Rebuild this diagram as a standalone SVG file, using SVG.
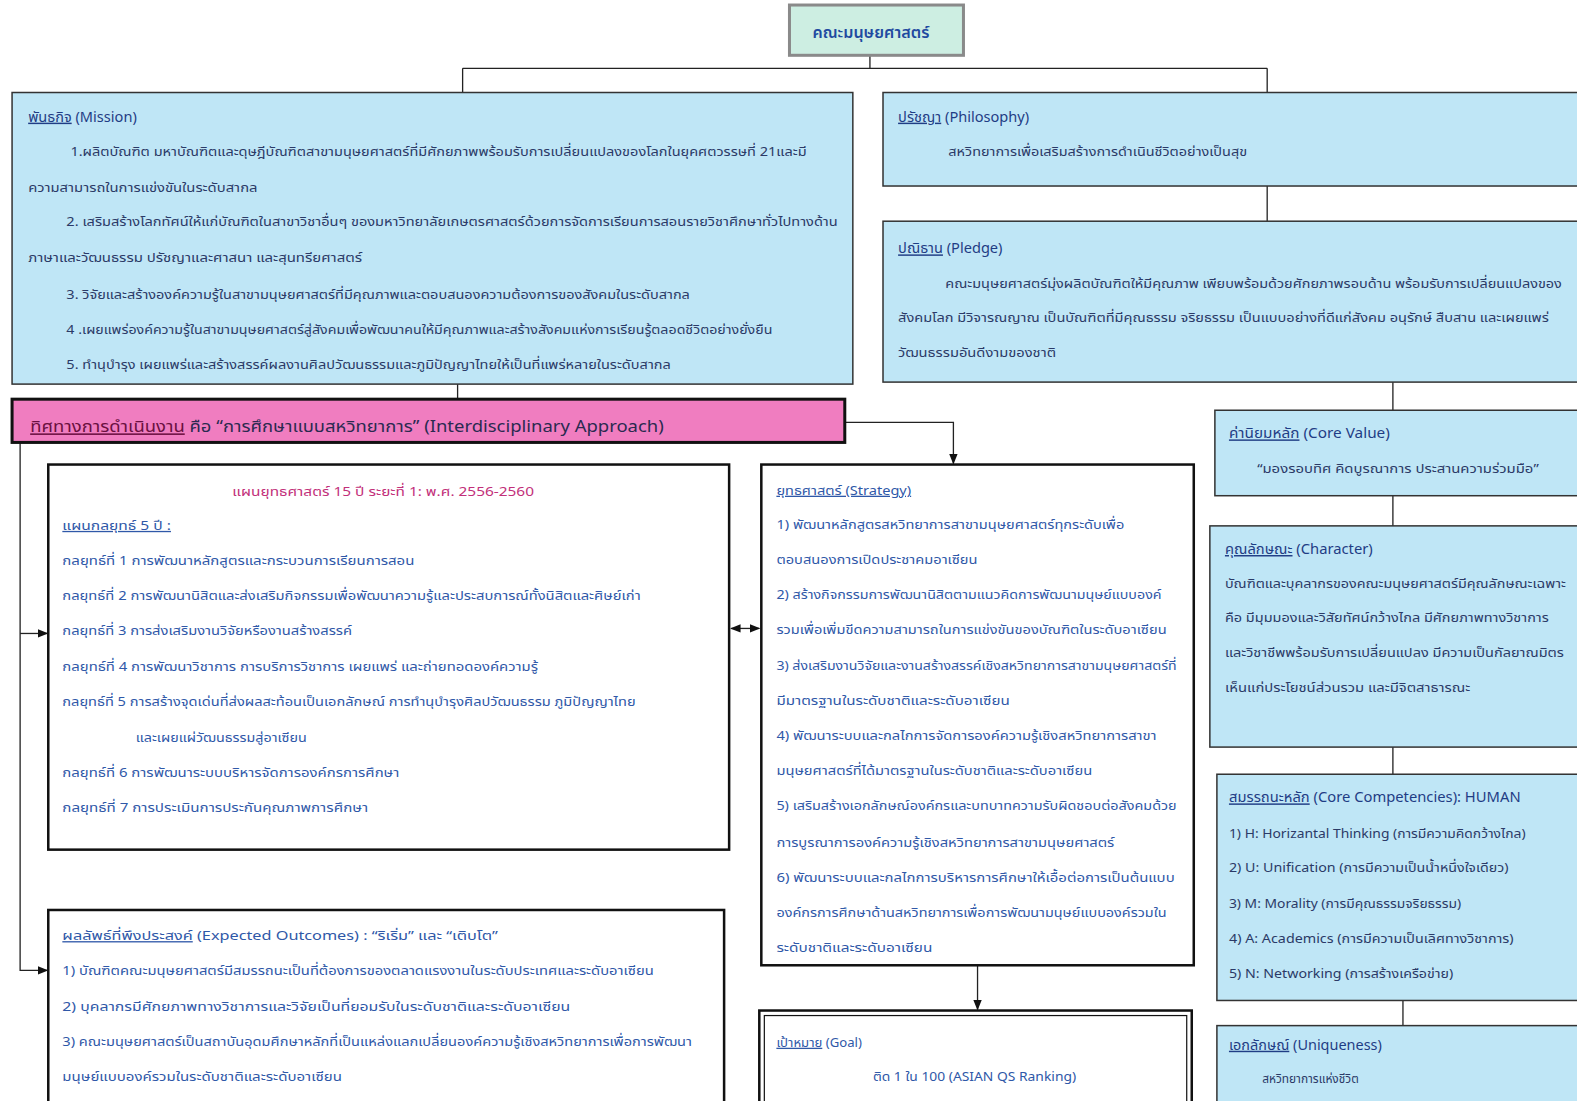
<svg xmlns="http://www.w3.org/2000/svg" width="1577" height="1101" viewBox="0 0 1577 1101">
<style>
text{font-family:"Noto Sans Thai","Noto Sans","Liberation Sans",sans-serif;font-size:13px;fill:#2b3a67}
.h{font-size:14.5px;fill:#1f3d85}
.u{text-decoration:underline}
.b{fill:#2f58a8}
.pk{fill:#c2307a}
.blue{fill:#bfe6f6;stroke:#333;stroke-width:1.5}
.white{fill:#fff;stroke:#111;stroke-width:2.5}
.ln{fill:none;stroke:#222;stroke-width:1.3}
</style>
<defs>
<marker id="ar" viewBox="0 0 10 10" refX="9" refY="5" markerWidth="8" markerHeight="8" orient="auto-start-reverse"><path d="M0 1L10 5L0 9z" fill="#111"/></marker>
</defs>
<rect width="1577" height="1101" fill="#fff"/>
<g transform="scale(1.0057 1.0055)">

<g id="connectors">
<path class="ln" d="M865 55V68M460 68H1260M460 68V92M1260 68V92"/>
<path class="ln" d="M1260 185V220"/>
<path class="ln" d="M1385 380V408"/>
<path class="ln" d="M1385 493V523"/>
<path class="ln" d="M1385 743V770"/>
<path class="ln" d="M1395 995V1020"/>
<path class="ln" d="M455 382V397"/>
<path class="ln" d="M840 420H948V461" marker-end="url(#ar)"/>
<path class="ln" d="M20 440V965H47" marker-end="url(#ar)"/>
<path class="ln" d="M20 630H47" marker-end="url(#ar)"/>
<path class="ln" d="M727 625H755" marker-start="url(#ar)" marker-end="url(#ar)"/>
<path class="ln" d="M972 960V1004" marker-end="url(#ar)"/>
</g>

<g id="faculty">
<rect x="785" y="5" width="173" height="50" fill="#cdeee2" stroke="#8a8a8a" stroke-width="3"/>
<text x="866" y="38" text-anchor="middle" style="font-size:16px;fill:#1f4aa0;font-weight:600">คณะมนุษยศาสตร์</text>
</g>

<g id="mission">
<rect class="blue" x="12" y="92" width="836" height="290"/>
<text class="h" x="28" y="121" textLength="108" lengthAdjust="spacingAndGlyphs"><tspan class="u">พันธกิจ</tspan> (Mission)</text>
<text x="70" y="155" textLength="732" lengthAdjust="spacingAndGlyphs">1.ผลิตบัณฑิต มหาบัณฑิตและดุษฎีบัณฑิตสาขามนุษยศาสตร์ที่มีศักยภาพพร้อมรับการเปลี่ยนแปลงของโลกในยุคศตวรรษที่ 21และมี</text>
<text x="28" y="191" textLength="228" lengthAdjust="spacingAndGlyphs">ความสามารถในการแข่งขันในระดับสากล</text>
<text x="66" y="225" textLength="767" lengthAdjust="spacingAndGlyphs">2. เสริมสร้างโลกทัศน์ให้แก่บัณฑิตในสาขาวิชาอื่นๆ ของมหาวิทยาลัยเกษตรศาสตร์ด้วยการจัดการเรียนการสอนรายวิชาศึกษาทั่วไปทางด้าน</text>
<text x="28" y="261" textLength="332" lengthAdjust="spacingAndGlyphs">ภาษาและวัฒนธรรม ปรัชญาและศาสนา และสุนทรียศาสตร์</text>
<text x="66" y="297" textLength="620" lengthAdjust="spacingAndGlyphs">3. วิจัยและสร้างองค์ความรู้ในสาขามนุษยศาสตร์ที่มีคุณภาพและตอบสนองความต้องการของสังคมในระดับสากล</text>
<text x="66" y="332" textLength="702" lengthAdjust="spacingAndGlyphs">4 .เผยแพร่องค์ความรู้ในสาขามนุษยศาสตร์สู่สังคมเพื่อพัฒนาคนให้มีคุณภาพและสร้างสังคมแห่งการเรียนรู้ตลอดชีวิตอย่างยั่งยืน</text>
<text x="66" y="367" textLength="601" lengthAdjust="spacingAndGlyphs">5. ทำนุบำรุง เผยแพร่และสร้างสรรค์ผลงานศิลปวัฒนธรรมและภูมิปัญญาไทยให้เป็นที่แพร่หลายในระดับสากล</text>
</g>

<g id="philosophy">
<rect class="blue" x="878" y="92" width="705" height="93"/>
<text class="h" x="893" y="121"><tspan class="u">ปรัชญา</tspan> (Philosophy)</text>
<text x="943" y="155" textLength="297" lengthAdjust="spacingAndGlyphs">สหวิทยาการเพื่อเสริมสร้างการดำเนินชีวิตอย่างเป็นสุข</text>
</g>

<g id="pledge">
<rect class="blue" x="878" y="220" width="705" height="160"/>
<text class="h" x="893" y="252"><tspan class="u">ปณิธาน</tspan> (Pledge)</text>
<text x="940" y="286" textLength="613" lengthAdjust="spacingAndGlyphs">คณะมนุษยศาสตร์มุ่งผลิตบัณฑิตให้มีคุณภาพ เพียบพร้อมด้วยศักยภาพรอบด้าน  พร้อมรับการเปลี่ยนแปลงของ</text>
<text x="893" y="320" textLength="647" lengthAdjust="spacingAndGlyphs">สังคมโลก มีวิจารณญาณ เป็นบัณฑิตที่มีคุณธรรม  จริยธรรม เป็นแบบอย่างที่ดีแก่สังคม อนุรักษ์  สืบสาน และเผยแพร่</text>
<text x="893" y="355" textLength="157" lengthAdjust="spacingAndGlyphs">วัฒนธรรมอันดีงามของชาติ</text>
</g>

<g id="direction">
<rect x="12" y="397" width="828" height="43" fill="#f07dc0" stroke="#111" stroke-width="3"/>
<text x="30" y="430" textLength="630" lengthAdjust="spacingAndGlyphs" style="font-size:15.5px;fill:#2a2a50"><tspan class="u" fill="#6a1040">ทิศทางการดำเนินงาน</tspan>  คือ “การศึกษาแบบสหวิทยาการ” (Interdisciplinary  Approach)</text>
</g>

<g id="plan">
<rect class="white" x="48" y="462" width="677" height="383"/>
<text class="pk" x="381" y="493" text-anchor="middle" textLength="300" lengthAdjust="spacingAndGlyphs">แผนยุทธศาสตร์ 15 ปี ระยะที่ 1: พ.ศ. 2556-2560</text>
<text class="b u" x="62" y="527" textLength="108" lengthAdjust="spacingAndGlyphs">แผนกลยุทธ์ 5 ปี :</text>
<text class="b" x="62" y="562" textLength="350" lengthAdjust="spacingAndGlyphs">กลยุทธ์ที่ 1  การพัฒนาหลักสูตรและกระบวนการเรียนการสอน</text>
<text class="b" x="62" y="597" textLength="575" lengthAdjust="spacingAndGlyphs">กลยุทธ์ที่ 2  การพัฒนานิสิตและส่งเสริมกิจกรรมเพื่อพัฒนาความรู้และประสบการณ์ทั้งนิสิตและศิษย์เก่า</text>
<text class="b" x="62" y="632" textLength="288" lengthAdjust="spacingAndGlyphs">กลยุทธ์ที่ 3  การส่งเสริมงานวิจัยหรืองานสร้างสรรค์</text>
<text class="b" x="62" y="667" textLength="473" lengthAdjust="spacingAndGlyphs">กลยุทธ์ที่ 4  การพัฒนาวิชาการ การบริการวิชาการ เผยแพร่ และถ่ายทอดองค์ความรู้</text>
<text class="b" x="62" y="702" textLength="570" lengthAdjust="spacingAndGlyphs">กลยุทธ์ที่ 5  การสร้างจุดเด่นที่ส่งผลสะท้อนเป็นเอกลักษณ์ การทำนุบำรุงศิลปวัฒนธรรม ภูมิปัญญาไทย</text>
<text class="b" x="135" y="738" textLength="170" lengthAdjust="spacingAndGlyphs">และเผยแผ่วัฒนธรรมสู่อาเซียน</text>
<text class="b" x="62" y="773" textLength="335" lengthAdjust="spacingAndGlyphs">กลยุทธ์ที่ 6  การพัฒนาระบบบริหารจัดการองค์กรการศึกษา</text>
<text class="b" x="62" y="808" textLength="304" lengthAdjust="spacingAndGlyphs">กลยุทธ์ที่ 7  การประเมินการประกันคุณภาพการศึกษา</text>
</g>

<g id="strategy">
<rect class="white" x="757" y="462" width="430" height="498"/>
<text class="b u" x="772" y="492" textLength="134" lengthAdjust="spacingAndGlyphs">ยุทธศาสตร์ (Strategy)</text>
<text class="b" x="772" y="526" textLength="346" lengthAdjust="spacingAndGlyphs">1) พัฒนาหลักสูตรสหวิทยาการสาขามนุษยศาสตร์ทุกระดับเพื่อ</text>
<text class="b" x="772" y="561" textLength="200" lengthAdjust="spacingAndGlyphs">ตอบสนองการเปิดประชาคมอาเซียน</text>
<text class="b" x="772" y="596" textLength="383" lengthAdjust="spacingAndGlyphs">2) สร้างกิจกรรมการพัฒนานิสิตตามแนวคิดการพัฒนามนุษย์แบบองค์</text>
<text class="b" x="772" y="631" textLength="388" lengthAdjust="spacingAndGlyphs">รวมเพื่อเพิ่มขีดความสามารถในการแข่งขันของบัณฑิตในระดับอาเซียน</text>
<text class="b" x="772" y="666" textLength="398" lengthAdjust="spacingAndGlyphs">3) ส่งเสริมงานวิจัยและงานสร้างสรรค์เชิงสหวิทยาการสาขามนุษยศาสตร์ที่</text>
<text class="b" x="772" y="701" textLength="232" lengthAdjust="spacingAndGlyphs">มีมาตรฐานในระดับชาติและระดับอาเซียน</text>
<text class="b" x="772" y="736" textLength="378" lengthAdjust="spacingAndGlyphs">4) พัฒนาระบบและกลไกการจัดการองค์ความรู้เชิงสหวิทยาการสาขา</text>
<text class="b" x="772" y="771" textLength="314" lengthAdjust="spacingAndGlyphs">มนุษยศาสตร์ที่ได้มาตรฐานในระดับชาติและระดับอาเซียน</text>
<text class="b" x="772" y="806" textLength="398" lengthAdjust="spacingAndGlyphs">5) เสริมสร้างเอกลักษณ์องค์กรและบทบาทความรับผิดชอบต่อสังคมด้วย</text>
<text class="b" x="772" y="842" textLength="336" lengthAdjust="spacingAndGlyphs">การบูรณาการองค์ความรู้เชิงสหวิทยาการสาขามนุษยศาสตร์</text>
<text class="b" x="772" y="877" textLength="396" lengthAdjust="spacingAndGlyphs">6) พัฒนาระบบและกลไกการบริหารการศึกษาให้เอื้อต่อการเป็นต้นแบบ</text>
<text class="b" x="772" y="912" textLength="388" lengthAdjust="spacingAndGlyphs">องค์กรการศึกษาด้านสหวิทยาการเพื่อการพัฒนามนุษย์แบบองค์รวมใน</text>
<text class="b" x="772" y="947" textLength="155" lengthAdjust="spacingAndGlyphs">ระดับชาติและระดับอาเซียน</text>
</g>

<g id="goal">
<rect class="white" x="755" y="1005" width="430" height="100"/>
<rect x="760" y="1010" width="420" height="95" fill="none" stroke="#111" stroke-width="1.2"/>
<text class="b" x="772" y="1041" textLength="85" lengthAdjust="spacingAndGlyphs"><tspan class="u">เป้าหมาย</tspan> (Goal)</text>
<text class="b" x="969" y="1075" text-anchor="middle" textLength="202" lengthAdjust="spacingAndGlyphs">ติด 1 ใน 100 (ASIAN QS Ranking)</text>
</g>

<g id="outcomes">
<rect class="white" x="48" y="905" width="672" height="200"/>
<text class="b" x="62" y="935" textLength="433" lengthAdjust="spacingAndGlyphs"><tspan class="u">ผลลัพธ์ที่พึงประสงค์</tspan> (Expected Outcomes) : “ริเริ่ม” และ “เติบโต”</text>
<text class="b" x="62" y="970" textLength="588" lengthAdjust="spacingAndGlyphs">1) บัณฑิตคณะมนุษยศาสตร์มีสมรรถนะเป็นที่ต้องการของตลาดแรงงานในระดับประเทศและระดับอาเซียน</text>
<text class="b" x="62" y="1005" textLength="505" lengthAdjust="spacingAndGlyphs">2) บุคลากรมีศักยภาพทางวิชาการและวิจัยเป็นที่ยอมรับในระดับชาติและระดับอาเซียน</text>
<text class="b" x="62" y="1040" textLength="626" lengthAdjust="spacingAndGlyphs">3) คณะมนุษยศาสตร์เป็นสถาบันอุดมศึกษาหลักที่เป็นแหล่งแลกเปลี่ยนองค์ความรู้เชิงสหวิทยาการเพื่อการพัฒนา</text>
<text class="b" x="62" y="1075" textLength="278" lengthAdjust="spacingAndGlyphs">มนุษย์แบบองค์รวมในระดับชาติและระดับอาเซียน</text>
</g>

<g id="core-value">
<rect class="blue" x="1208" y="408" width="375" height="85"/>
<text class="h" x="1222" y="436" textLength="160" lengthAdjust="spacingAndGlyphs"><tspan class="u">ค่านิยมหลัก</tspan> (Core Value)</text>
<text x="1250" y="470" textLength="280" lengthAdjust="spacingAndGlyphs">“มองรอบทิศ คิดบูรณาการ ประสานความร่วมมือ”</text>
</g>

<g id="character">
<rect class="blue" x="1203" y="523" width="380" height="220"/>
<text class="h" x="1218" y="551" textLength="147" lengthAdjust="spacingAndGlyphs"><tspan class="u">คุณลักษณะ</tspan> (Character)</text>
<text x="1218" y="585" textLength="339" lengthAdjust="spacingAndGlyphs">บัณฑิตและบุคลากรของคณะมนุษยศาสตร์มีคุณลักษณะเฉพาะ</text>
<text x="1218" y="619" textLength="322" lengthAdjust="spacingAndGlyphs">คือ มีมุมมองและวิสัยทัศน์กว้างไกล มีศักยภาพทางวิชาการ</text>
<text x="1218" y="653" textLength="337" lengthAdjust="spacingAndGlyphs">และวิชาชีพพร้อมรับการเปลี่ยนแปลง มีความเป็นกัลยาณมิตร</text>
<text x="1218" y="688" textLength="244" lengthAdjust="spacingAndGlyphs">เห็นแก่ประโยชน์ส่วนรวม และมีจิตสาธารณะ</text>
</g>

<g id="competencies">
<rect class="blue" x="1210" y="770" width="373" height="225"/>
<text class="h" x="1222" y="798" textLength="290" lengthAdjust="spacingAndGlyphs"><tspan class="u">สมรรถนะหลัก</tspan> (Core Competencies): HUMAN</text>
<text x="1222" y="833" textLength="295" lengthAdjust="spacingAndGlyphs">1) H: Horizantal Thinking (การมีความคิดกว้างไกล)</text>
<text x="1222" y="867" textLength="278" lengthAdjust="spacingAndGlyphs">2) U: Unification (การมีความเป็นน้ำหนึ่งใจเดียว)</text>
<text x="1222" y="903" textLength="231" lengthAdjust="spacingAndGlyphs">3) M: Morality (การมีคุณธรรมจริยธรรม)</text>
<text x="1222" y="938" textLength="283" lengthAdjust="spacingAndGlyphs">4) A: Academics (การมีความเป็นเลิศทางวิชาการ)</text>
<text x="1222" y="973" textLength="223" lengthAdjust="spacingAndGlyphs">5) N: Networking (การสร้างเครือข่าย)</text>
</g>

<g id="uniqueness">
<rect class="blue" x="1210" y="1020" width="373" height="90"/>
<text class="h" x="1222" y="1044" textLength="152" lengthAdjust="spacingAndGlyphs"><tspan class="u">เอกลักษณ์</tspan> (Uniqueness)</text>
<text x="1255" y="1077" textLength="96" lengthAdjust="spacingAndGlyphs">สหวิทยาการแห่งชีวิต</text>
</g>
</g>
</svg>
